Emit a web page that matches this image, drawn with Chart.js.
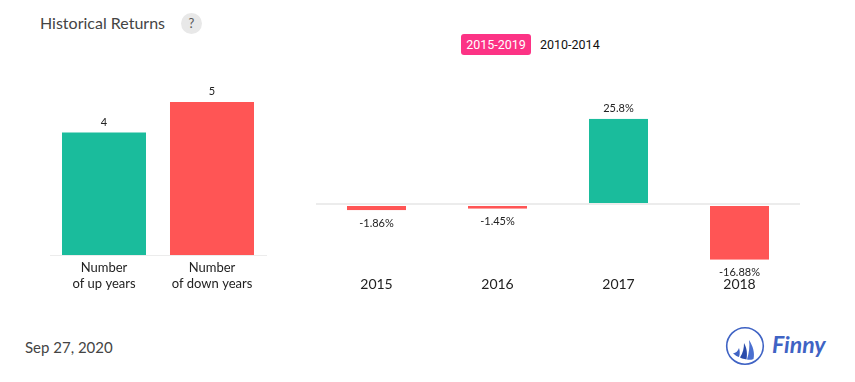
<!DOCTYPE html>
<html lang="en">
<head>
  <meta charset="UTF-8">
  <title>Historical Returns</title>
  <script src="https://cdn.jsdelivr.net/npm/chart.js"></script>
  <style>
    html, body { margin: 0; padding: 0; background: #fff; }
    body { width: 855px; height: 382px; position: relative; overflow: hidden; font-family: Lato, sans-serif; }
    .abs { position: absolute; white-space: nowrap; }
    .title { left: 40px; top: 13px; font-size: 16px; line-height: 20px; color: #444; }
    .help { left: 181px; top: 13px; width: 21px; height: 21px; line-height: 21px; border-radius: 50%; background: #e8e8e8; color: #555; text-align: center; font-size: 13px; }
    .tab { font-family: Roboto, sans-serif; font-size: 12.5px; line-height: 22px; height: 21px; top: 34px; text-align: center; }
    .tab.on { left: 461px; width: 70px; background: #fc3385; color: #fff; border-radius: 3px; }
    .tab.off { left: 540px; color: #111; }
    .date { left: 25px; top: 337px; font-size: 15px; line-height: 20px; color: #444; }
    canvas { position: absolute; }
    #upDown { left: 50px; top: 80px; }
    #returns { left: 316px; top: 90px; }
    svg { position: absolute; left: 720px; top: 322px; }
  </style>
</head>
<body>
  <div class="abs title">Historical Returns</div>
  <div class="abs help">?</div>
  <div class="abs tab on">2015-2019</div>
  <div class="abs tab off">2010-2014</div>
  <canvas id="upDown" width="217" height="220"></canvas>
  <canvas id="returns" width="484" height="210"></canvas>
  <div class="abs date">Sep 27, 2020</div>

  <svg width="120" height="50" viewBox="0 0 120 50">
    <circle cx="25" cy="24" r="18.3" fill="none" stroke="#3f63c4" stroke-width="1.6"/>
    <path d="M29 18 C33 24 35 31 33.5 37 C31 38 29 38 27 37.5 C29 31 30 24 29 18 Z" fill="#4a6fd0"/>
    <path d="M24 21 C27 26 27.5 32 26.5 37.5 C24 37 22 36.5 20 35.5 C23 31 24 26 24 21 Z" fill="#2a4cab"/>
    <path d="M19 26 C20 29 20 32 19 35 C17 34.5 15 33 13 31.5 C16 31 18 29 19 26 Z" fill="#3f63c4"/>
    <text x="52" y="31" fill="#3f63c4" font-family="Lato, sans-serif" font-style="italic" font-weight="bold" font-size="23">Finny</text>
  </svg>

  <script>
    const countLabels = [['Number', 'of up years'], ['Number', 'of down years']];
    const countValues = [4, 5];

    const years = ['2015', '2016', '2017', '2018'];
    const yearReturns = [-1.86, -1.45, 25.8, -16.88];

    const GREEN = '#1abc9c';
    const RED = '#ff5555';
    const LINE = '#ececec';

    // writes the value above or below each bar
    const valueLabels = {
      id: 'valueLabels',
      afterDatasetsDraw(chart, args, opts) {
        const ctx = chart.ctx;
        const values = chart.data.datasets[0].data;
        ctx.save();
        ctx.font = '11px Lato';
        ctx.fillStyle = '#222';
        ctx.textAlign = 'center';
        ctx.textBaseline = 'middle';
        chart.getDatasetMeta(0).data.forEach((bar, i) => {
          const y = values[i] < 0 ? bar.y + 13 : bar.y - 10.6;
          ctx.fillText(values[i] + opts.suffix, bar.x, y);
        });
        ctx.restore();
      }
    };

    new Chart(document.getElementById('upDown'), {
      type: 'bar',
      plugins: [valueLabels],
      data: {
        labels: countLabels,
        datasets: [{
          data: countValues,
          backgroundColor: [GREEN, RED],
          categoryPercentage: 1,
          barPercentage: 0.7778
        }]
      },
      options: {
        responsive: false,
        animation: false,
        layout: { padding: { top: 22, right: 1 } },
        plugins: { legend: { display: false }, tooltip: { enabled: false }, valueLabels: { suffix: '' } },
        scales: {
          y: { display: false, min: 0, max: 5 },
          x: {
            afterFit: scale => { scale.height = 45; },
            grid: { display: false, drawTicks: false },
            border: { color: LINE, width: 1 },
            ticks: { color: '#222', font: { family: 'Lato', size: 13, lineHeight: 1.23 }, padding: 5, maxRotation: 0 }
          }
        }
      }
    });

    // white edge around the bars breaks the zero line beside them
    new Chart(document.getElementById('returns'), {
      type: 'bar',
      plugins: [valueLabels],
      data: {
        labels: years,
        datasets: [{
          data: yearReturns,
          backgroundColor: yearReturns.map(v => v < 0 ? RED : GREEN),
          borderColor: '#fff',
          borderWidth: yearReturns.map(v => ({ left: 1, right: 1, top: v < 0 ? 1 : 0, bottom: 0 })),
          borderSkipped: false,
          categoryPercentage: 1,
          barPercentage: 0.5041
        }]
      },
      options: {
        responsive: false,
        animation: false,
        layout: { padding: { top: 15 } },
        plugins: { legend: { display: false }, tooltip: { enabled: false }, valueLabels: { suffix: '%' } },
        scales: {
          y: {
            min: -20,
            max: 30,
            afterFit: scale => { scale.width = 0; },
            border: { display: false },
            grid: {
              drawTicks: false,
              lineWidth: 2,
              color: c => c.tick.value === 0 ? LINE : 'transparent'
            },
            ticks: { display: false, stepSize: 10 }
          },
          x: {
            afterFit: scale => { scale.height = 30; },
            grid: { display: false, drawTicks: false },
            border: { display: false },
            ticks: { color: '#222', font: { family: 'Lato', size: 14 }, padding: 6, maxRotation: 0 }
          }
        }
      }
    });
  </script>
</body>
</html>
